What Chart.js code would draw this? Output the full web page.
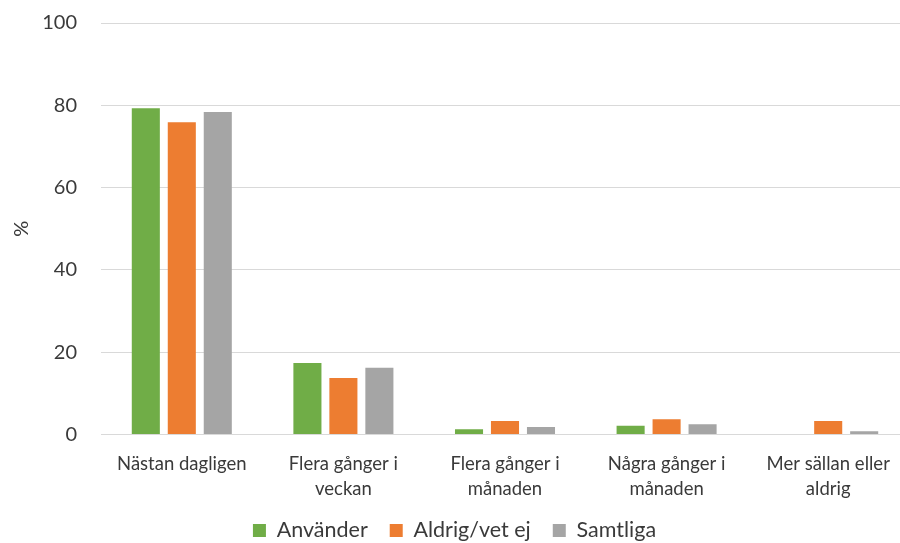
<!DOCTYPE html>
<html>
<head>
<meta charset="utf-8">
<script src="https://cdn.jsdelivr.net/npm/chart.js@4/dist/chart.umd.min.js"></script>
<style>
  html, body { margin: 0; padding: 0; background: #fff; overflow: hidden; }
  #wrap { position: relative; width: 910px; height: 543px; }
</style>
</head>
<body>
<div id="wrap"><canvas id="chart" width="910" height="543"></canvas></div>
<script>
// Frequency categories (multi-line axis labels)
const categories = [
  ["Nästan dagligen"],
  ["Flera gånger i", "veckan"],
  ["Flera gånger i", "månaden"],
  ["Några gånger i", "månaden"],
  ["Mer sällan eller", "aldrig"]
];

// Share of respondents, %
const anvander   = [79.3, 17.4, 1.3, 2.1, 0];
const aldrigVet  = [75.9, 13.7, 3.3, 3.7, 3.3];
const samtliga   = [78.4, 16.2, 1.8, 2.5, 0.8];

const seriesNames = ["Använder", "Aldrig/vet ej", "Samtliga"];
const yTicks = [0, 20, 40, 60, 80, 100];

const textColor = "#3a3a3a";
const fontFamily = "Lato, 'Open Sans', sans-serif";

const LEGEND_FONT = 21.5;
const LEGEND_PAD = 22;
const LEGEND_Y = 530.5;   // vertical centre of the legend row
const PLOT_BOTTOM = 434.5;
const X_AXIS_H = 70;
const LEGEND_H = LEGEND_FONT + LEGEND_PAD + 10; // height Chart.js reserves for a one-row legend

// Places the legend row at a fixed height under the axis labels
const legendOffset = {
  id: "legendOffset",
  afterLayout(chart) {
    const lg = chart.legend;
    if (!lg) return;
    const top = LEGEND_Y - LEGEND_PAD - LEGEND_FONT / 2;
    const shift = top - lg.top;
    lg.top += shift;
    lg.bottom += shift;
  }
};

new Chart(document.getElementById("chart"), {
  type: "bar",
  data: {
    labels: categories,
    datasets: [
      { label: seriesNames[0], data: anvander,  backgroundColor: "#70AD47" },
      { label: seriesNames[1], data: aldrigVet, backgroundColor: "#ED7D31" },
      { label: seriesNames[2], data: samtliga,  backgroundColor: "#A5A5A5" }
    ]
  },
  options: {
    responsive: false,
    animation: false,
    devicePixelRatio: 1,
    datasets: {
      bar: { categoryPercentage: 0.668, barPercentage: 0.78 }
    },
    layout: {
      padding: { top: 23, right: 1, left: 0, bottom: 543 - PLOT_BOTTOM - X_AXIS_H - LEGEND_H }
    },
    plugins: {
      tooltip: { enabled: false },
      legend: {
        position: "bottom",
        labels: {
          boxWidth: 13,
          boxHeight: 13,
          padding: LEGEND_PAD,
          color: textColor,
          font: { family: fontFamily, size: LEGEND_FONT }
        }
      }
    },
    scales: {
      x: {
        grid: { display: false },
        border: { display: false },
        ticks: {
          color: textColor,
          padding: 9,
          maxRotation: 0,
          autoSkip: false,
          font: { family: fontFamily, size: 18.5, lineHeight: 1.35 }
        },
        afterFit(scale) { scale.height = X_AXIS_H; }
      },
      y: {
        min: 0,
        max: 100,
        afterBuildTicks(scale) { scale.ticks = yTicks.map(v => ({ value: v })); },
        grid: { color: "#d9d9d9", lineWidth: 1, drawTicks: false },
        border: { display: false },
        ticks: {
          color: textColor,
          padding: 24,
          font: { family: fontFamily, size: 20 }
        },
        title: {
          display: true,
          text: "%",
          color: textColor,
          padding: { top: 10, bottom: 0 },
          font: { family: fontFamily, size: 20 }
        },
        afterFit(scale) {
          scale.width = 101;
          scale.paddingTop = 0;
          scale.paddingBottom = 0;
        }
      }
    }
  },
  plugins: [legendOffset]
});
</script>
</body>
</html>
